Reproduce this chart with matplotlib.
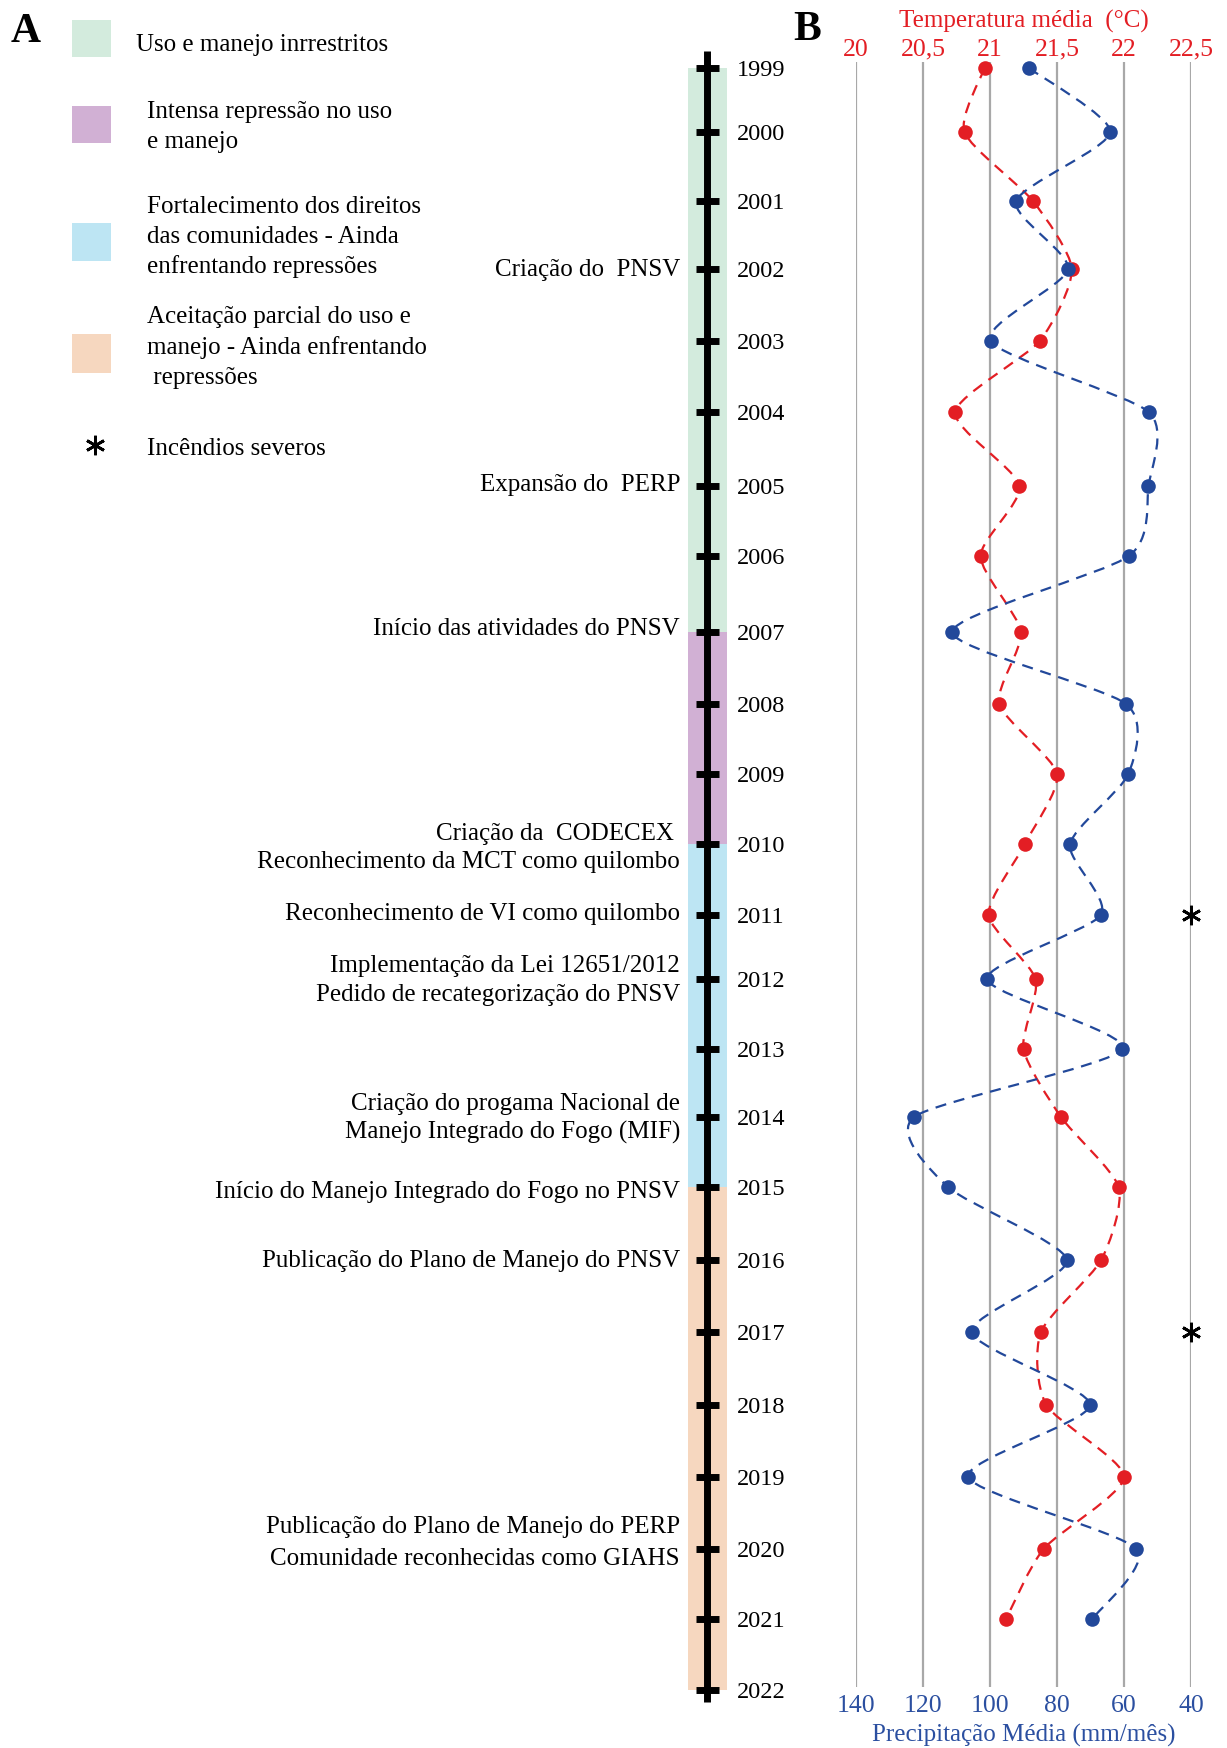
import numpy as np
import matplotlib
matplotlib.use("Agg")
import matplotlib.pyplot as plt
from matplotlib.path import Path
from matplotlib.patches import PathPatch, Rectangle

plt.rcParams['font.family'] = ['Liberation Serif', 'DejaVu Serif']

# ---------------- data ----------------
years = list(range(1999, 2022))
temperature = [20.96, 20.81, 21.32, 21.61, 21.37, 20.74, 21.22, 20.93, 21.23, 21.07,
               21.50, 21.26, 20.99, 21.34, 21.25, 21.53, 21.96, 21.83, 21.38, 21.42,
               22.00, 21.40, 21.12]
precipitation = [88.4, 64.1, 92.2, 76.7, 99.8, 52.6, 52.7, 58.6, 111.3, 59.4,
                 58.7, 76.1, 66.9, 100.9, 60.5, 122.7, 112.5, 77.0, 105.5, 70.1,
                 106.5, 56.3, 69.5]
timeline_years = list(range(1999, 2023))
period_start = [1999, 2007, 2010, 2015]
period_end = [2007, 2010, 2015, 2022]
period_labels = [["Uso e manejo inrrestritos"],
                 ["Intensa repressão no uso", "e manejo"],
                 ["Fortalecimento dos direitos", "das comunidades - Ainda", "enfrentando repressões"],
                 ["Aceitação parcial do uso e", "manejo - Ainda enfrentando", " repressões"]]
period_colors = ['#D3EBDD', '#D1B0D4', '#BDE5F3', '#F6D7BF']
event_years = [2002, 2005, 2007, 2010, 2011, 2012, 2014, 2015, 2016, 2020]
event_labels = [["Criação do  PNSV"],
                ["Expansão do  PERP"],
                ["Início das atividades do PNSV"],
                ["Criação da  CODECEX ", "Reconhecimento da MCT como quilombo"],
                ["Reconhecimento de VI como quilombo"],
                ["Implementação da Lei 12651/2012", "Pedido de recategorização do PNSV"],
                ["Criação do progama Nacional de", "Manejo Integrado do Fogo (MIF)"],
                ["Início do Manejo Integrado do Fogo no PNSV"],
                ["Publicação do Plano de Manejo do PNSV"],
                ["Publicação do Plano de Manejo do PERP", "Comunidade reconhecidas como GIAHS"]]
fire_years = [2011, 2017]
fire_label = "Incêndios severos"
temp_ticks = [20, 20.5, 21, 21.5, 22, 22.5]
temp_ticklabels = ['20', '20,5', '21', '21,5', '22', '22,5']
precip_ticks = [140, 120, 100, 80, 60, 40]
precip_ticklabels = ['140', '120', '100', '80', '60', '40']

# ---------------- layout ----------------
W, H = 1227, 1748
# pixel rows of the timeline ticks in the original layout (the timeline is not evenly spaced)
tick_px = [68, 132, 201, 269, 341, 412, 486, 556, 632, 704, 774, 844, 915,
           979, 1049, 1117, 1187, 1260, 1332, 1405, 1477, 1549, 1619, 1690]
# small vertical nudges (px) and line spacing of the event captions
event_nudge = [-1, -3, -5, 2, -3, -1, -1, 3, -1, -8]
event_gap = [29, 29, 29, 28, 29, 29, 29, 29, 29, 32]
TY = np.array(timeline_years, float)
TP = np.array(tick_px, float)
SLOPE = 70.5


def fwd(y):
    y = np.asarray(y, float)
    out = np.interp(y, TY, TP)
    out = np.where(y < TY[0], TP[0] + (y - TY[0]) * SLOPE, out)
    out = np.where(y > TY[-1], TP[-1] + (y - TY[-1]) * SLOPE, out)
    return out


def inv(p):
    p = np.asarray(p, float)
    out = np.interp(p, TP, TY)
    out = np.where(p < TP[0], TY[0] + (p - TP[0]) / SLOPE, out)
    out = np.where(p > TP[-1], TY[-1] + (p - TP[-1]) / SLOPE, out)
    return out


def yr(py):
    return float(inv(py))


RED = '#E31E24'
BLUE = '#22489A'
BLUE_TXT = '#2B4FA0'
FS = 18
FSY = 17.5


def base(py_center, fs=FS):
    return yr(py_center + 0.33 * fs * 100 / 72)


fig = plt.figure(figsize=(W / 100, H / 100), dpi=100)
axA = fig.add_axes([0, 0, 1, 1])
axA.set_xlim(0, W)
axA.set_yscale('function', functions=(fwd, inv))
axA.set_ylim(yr(H), yr(0))
axA.axis('off')

# period bands
for s, e, c in zip(period_start, period_end, period_colors):
    axA.add_patch(Rectangle((688, s), 39, e - s, facecolor=c, edgecolor='none', zorder=1))

# timeline
axA.plot([707, 707], [yr(51), yr(1702)], color='black', lw=5, solid_capstyle='butt', zorder=3)
axA.hlines(timeline_years, 696, 719, color='black', lw=5, zorder=3)
for y, py in zip(timeline_years, tick_px):
    axA.text(737, base(py, FSY), str(y), fontsize=FSY, ha='left', va='baseline')

# events
for y, lines, nud, gap in zip(event_years, event_labels, event_nudge, event_gap):
    ypx = float(fwd(y)) + nud
    n = len(lines)
    for i, s in enumerate(lines):
        off = (i - (n - 1) / 2) * gap
        axA.text(680, base(ypx + off), s, fontsize=FS, ha='right', va='baseline')

# legend
sq = [(20, 57), (106, 143), (223, 261), (334, 373)]
txt_lines = [[43], [110, 140], [205, 235, 265], [315, 346, 376]]
txt_x = [136, 147, 147, 147]
for (t, b), c, lab, ys, tx in zip(sq, period_colors, period_labels, txt_lines, txt_x):
    axA.add_patch(Rectangle((72, yr(t)), 39, yr(b) - yr(t), facecolor=c, edgecolor='none'))
    for s, py in zip(lab, ys):
        axA.text(tx, base(py), s, fontsize=FS, ha='left', va='baseline')
axA.plot([95], [yr(445)], marker=(6, 2, 0), ms=14, mew=2.0, color='black', ls='none')
axA.text(147, base(447), fire_label, fontsize=FS, ha='left', va='baseline')

axA.text(11, yr(42), 'A', fontsize=30, fontweight='bold', ha='left', va='baseline')
axA.text(793, yr(40), 'B', fontsize=30, fontweight='bold', ha='left', va='baseline')

# ---------------- panel B ----------------
top_px, bot_px, left_px, right_px = 62, 1687, 856, 1191
axT = fig.add_axes([left_px / W, 1 - bot_px / H, (right_px - left_px) / W, (bot_px - top_px) / H])
axP = axT.twiny()
for a in (axT, axP):
    a.set_yscale('function', functions=(fwd, inv))
    a.set_ylim(yr(bot_px), yr(top_px))
    a.set_yticks([])
    a.minorticks_off()
    a.patch.set_visible(False)
    for sp in a.spines.values():
        sp.set_visible(False)

axT.set_xlim(20, 22.5)
axT.set_xticks(temp_ticks, temp_ticklabels)
axT.xaxis.tick_top()
axT.xaxis.set_label_position('top')
axT.tick_params(axis='x', length=0, pad=1, labelsize=18.5, labelcolor=RED)
axT.grid(axis='x', color='#A8A8A8', lw=1.6)
axT.set_xlabel('Temperatura média  (°C)', color=RED, fontsize=18, labelpad=8)

axP.set_xlim(140, 40)
axP.set_xticks(precip_ticks, precip_ticklabels)
axP.xaxis.tick_bottom()
axP.xaxis.set_label_position('bottom')
axP.tick_params(axis='x', length=0, pad=6, labelsize=18.5, labelcolor=BLUE_TXT)
axP.set_xlabel('Precipitação Média (mm/mês)', color=BLUE_TXT, fontsize=18, labelpad=5)


def smooth_path(x, y, k=1 / 8.5):
    pts = np.column_stack([x, y]).astype(float)
    n = len(pts)
    verts = [pts[0]]
    codes = [Path.MOVETO]
    for i in range(n - 1):
        p0 = pts[i - 1] if i > 0 else pts[i]
        p1 = pts[i]
        p2 = pts[i + 1]
        p3 = pts[i + 2] if i + 2 < n else pts[i + 1]
        c1 = p1 + (p2 - p0) * k
        c2 = p2 - (p3 - p1) * k
        verts += [c1, c2, p2]
        codes += [Path.CURVE4] * 3
    return Path(verts, codes)


dash = (0, (5, 3.5))
axT.add_patch(PathPatch(smooth_path(temperature, years), fill=False, edgecolor=RED,
                        lw=1.6, linestyle=dash, clip_on=False, zorder=3))
axT.plot(temperature, years, 'o', color=RED, ms=10.5, mew=0, clip_on=False, zorder=4)

axP.add_patch(PathPatch(smooth_path(precipitation, years), fill=False, edgecolor=BLUE,
                        lw=1.6, linestyle=dash, clip_on=False, zorder=3))
axP.plot(precipitation, years, 'o', color=BLUE, ms=10.5, mew=0, clip_on=False, zorder=4)

axT.plot([22.5] * len(fire_years), fire_years, marker=(6, 2, 0), ms=14, mew=2.0,
         color='black', ls='none', clip_on=False, zorder=5)

fig.savefig('out.png', dpi=100)
